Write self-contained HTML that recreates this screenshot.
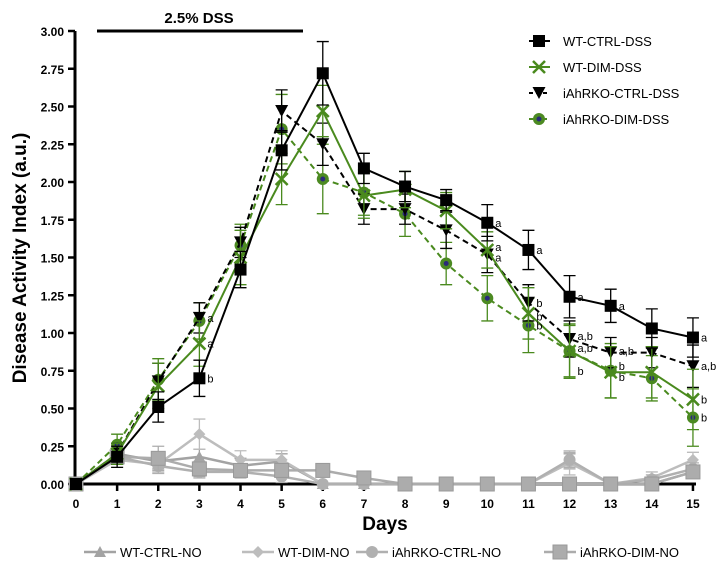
<!DOCTYPE html>
<html><head><meta charset="utf-8">
<style>
html,body{margin:0;padding:0;background:#fff;}
svg{display:block;font-family:"Liberation Sans",Arial,sans-serif;}
</style></head>
<body>
<svg id="c" width="723" height="569" xmlns="http://www.w3.org/2000/svg"></svg>
<script>
const S=document.getElementById('c');
const NS='http://www.w3.org/2000/svg';
function el(t,a,txt){const e=document.createElementNS(NS,t);for(const k in a)e.setAttribute(k,a[k]);if(txt!==undefined)e.textContent=txt;S.appendChild(e);return e;}
const X=d=>76+d*41.13, Y=v=>484-v*151;
// axes
el('line',{x1:75,y1:31,x2:75,y2:486,stroke:'#000','stroke-width':3});
el('line',{x1:73,y1:484,x2:696,y2:484,stroke:'#000','stroke-width':3});
for(let i=0;i<=12;i++){const v=i*0.25,y=Y(v);
 el('line',{x1:68,y1:y,x2:75,y2:y,stroke:'#000','stroke-width':2.5});
 el('text',{x:64,y:y+5,'text-anchor':'end','font-size':12,'font-weight':'bold'},v.toFixed(2));}
for(let d=0;d<=15;d++){const x=X(d);
 el('line',{x1:x,y1:484,x2:x,y2:491,stroke:'#000','stroke-width':2.5});
 el('text',{x:x,y:508,'text-anchor':'middle','font-size':12,'font-weight':'bold'},d);}
el('text',{x:385,y:530,'text-anchor':'middle','font-size':19,'font-weight':'bold'},'Days');
el('text',{x:0,y:0,transform:'translate(26,258) rotate(-90)','text-anchor':'middle','font-size':19,'font-weight':'bold'},'Disease Activity Index (a.u.)');
el('line',{x1:97,y1:31,x2:303,y2:31,stroke:'#000','stroke-width':3});
el('text',{x:199,y:23,'text-anchor':'middle','font-size':15,'font-weight':'bold'},'2.5% DSS');

function marker(type,x,y,col,s){
 s=s||1;
 if(type=='sq')el('rect',{x:x-6*s,y:y-6*s,width:12*s,height:12*s,fill:col});
 else if(type=='x'){el('path',{d:`M${x-6} ${y-6}L${x+6} ${y+6}M${x-6} ${y+6}L${x+6} ${y-6}`,stroke:col,'stroke-width':2.5});}
 else if(type=='tri')el('path',{d:`M${x-6.5} ${y-6}L${x+6.5} ${y-6}L${x} ${y+6}Z`,fill:col});
 else if(type=='tu')el('path',{d:`M${x-6} ${y+5}L${x+6} ${y+5}L${x} ${y-6}Z`,fill:col});
 else if(type=='circ'){el('circle',{cx:x,cy:y,r:6,fill:'#4c8a22'});el('circle',{cx:x,cy:y,r:2.5,fill:'#2a2a7a'});}
 else if(type=='gc')el('circle',{cx:x,cy:y,r:6,fill:col});
 else if(type=='dia')el('path',{d:`M${x} ${y-6}L${x+6} ${y}L${x} ${y+6}L${x-6} ${y}Z`,fill:col});
 else if(type=='gsq'){el('rect',{x:x-7,y:y-7,width:14,height:14,fill:col,stroke:'#999','stroke-width':1});}
}
function series(data,err,col,dash,type,w){
 const pts=data.map((v,i)=>X(i)+','+Y(v)).join(' ');
 data.forEach((v,i)=>{if(err&&err[i]){const x=X(i);el('path',{d:`M${x} ${Y(v-err[i])}V${Y(v+err[i])}M${x-6} ${Y(v-err[i])}h12M${x-6} ${Y(v+err[i])}h12`,stroke:col,'stroke-width':1.3,fill:'none'});}});
 el('polyline',{points:pts,fill:'none',stroke:col,'stroke-width':w||2,'stroke-dasharray':dash||'none'});
 data.forEach((v,i)=>marker(type,X(i),Y(v),col));
}
// gray NO series
const g1='#a3a3a3',g2='#bdbdbd',g3='#b0b0b0',g4='#acacac';
series([0,0.2,0.15,0.18,0.12,0.15,0,0,0,0,0,0,0.15,0,0,0.08],[0,.05,.05,.05,.05,.05,0,0,0,0,0,0,.05,0,.02,.04],g1,null,'tu',2.5);
series([0,0.16,0.13,0.33,0.16,0.16,0,0,0,0,0,0,0.14,0,0.04,0.16],[0,.05,.05,.1,.06,.06,0,0,0,0,0,0,.08,0,.04,.05],g2,null,'dia',2.5);
series([0,0.18,0.12,0.08,0.08,0.05,0,0,0,0,0,0,0.16,0,0.03,0.1],[0,.05,.05,.04,.04,.04,0,0,0,0,0,0,.05,0,.03,.04],g3,null,'gc',2.5);
series([0,0.18,0.17,0.1,0.09,0.09,0.09,0.04,0,0,0,0,0,0,0,0.08],[0,.05,.08,.05,.04,.04,.04,.03,0,0,0,0,0,0,0,.04],g4,null,'gsq',2.5);
// DSS series
const GR='#4a8a1e';
series([0,0.26,0.69,1.08,1.58,2.35,2.02,1.93,1.79,1.46,1.23,1.05,0.88,0.75,0.70,0.44],[0,.07,.14,.12,.14,.23,.23,.15,.15,.14,.15,.18,.18,.18,.15,.19],GR,'6,4','circ',2);
series([0,0.2,0.68,1.1,1.6,2.47,2.25,1.82,1.82,1.68,1.52,1.2,0.96,0.87,0.87,0.78],[0,.07,.12,.1,.1,.14,.14,.1,.1,.12,.12,.12,.12,.1,.1,.14],'#000','6,4','tri',2);
series([0,0.2,0.65,0.93,1.5,2.02,2.47,1.91,1.95,1.81,1.55,1.13,0.88,0.74,0.74,0.56],[0,.07,.15,.15,.18,.17,.17,.15,.12,.12,.12,.17,.17,.17,.17,.2],GR,null,'x',2);
series([0,0.18,0.51,0.70,1.42,2.21,2.72,2.09,1.97,1.88,1.73,1.55,1.24,1.18,1.03,0.97],[0,.07,.1,.12,.12,.13,.21,.1,.1,.07,.12,.13,.14,.11,.13,.13],'#000',null,'sq',2);
// letters
const L=[[3,0.70,'b'],[3,1.1,'a'],[3,0.93,'a'],[10,1.73,'a'],[10,1.57,'a'],[10,1.50,'a'],[11,1.55,'a'],[11,1.20,'b'],[11,1.11,'b'],[11,1.05,'b'],[12,1.24,'a'],[12,0.98,'a,b'],[12,0.90,'a,b'],[12,0.75,'b'],[13,1.18,'a'],[13,0.88,'a,b'],[13,0.78,'b'],[13,0.71,'b'],[15,0.97,'a'],[15,0.78,'a,b'],[15,0.56,'b'],[15,0.44,'b']];
L.forEach(([d,v,t])=>el('text',{x:X(d)+8,y:Y(v)+4,'font-size':11},t));
// top legend
const TL=[['sq','#000',null,'WT-CTRL-DSS'],['x',GR,null,'WT-DIM-DSS'],['tri','#000','4,3','iAhRKO-CTRL-DSS'],['circ',GR,'4,3','iAhRKO-DIM-DSS']];
TL.forEach(([t,c,d,n],i)=>{const y=41+i*26;el('line',{x1:529,y1:y,x2:550,y2:y,stroke:c,'stroke-width':2,'stroke-dasharray':d||'none'});marker(t,539,y,c);el('text',{x:563,y:y+5,'font-size':13},n);});
// bottom legend
const BL=[['tu',g1,100,'WT-CTRL-NO'],['dia',g2,258,'WT-DIM-NO'],['gc',g3,372,'iAhRKO-CTRL-NO'],['gsq',g4,560,'iAhRKO-DIM-NO']];
BL.forEach(([t,c,x,n])=>{const y=552;el('line',{x1:x-16,y1:y,x2:x+16,y2:y,stroke:c,'stroke-width':2.5});marker(t,x,y,c);el('text',{x:x+20,y:y+5,'font-size':13},n);});
</script>
</body></html>
